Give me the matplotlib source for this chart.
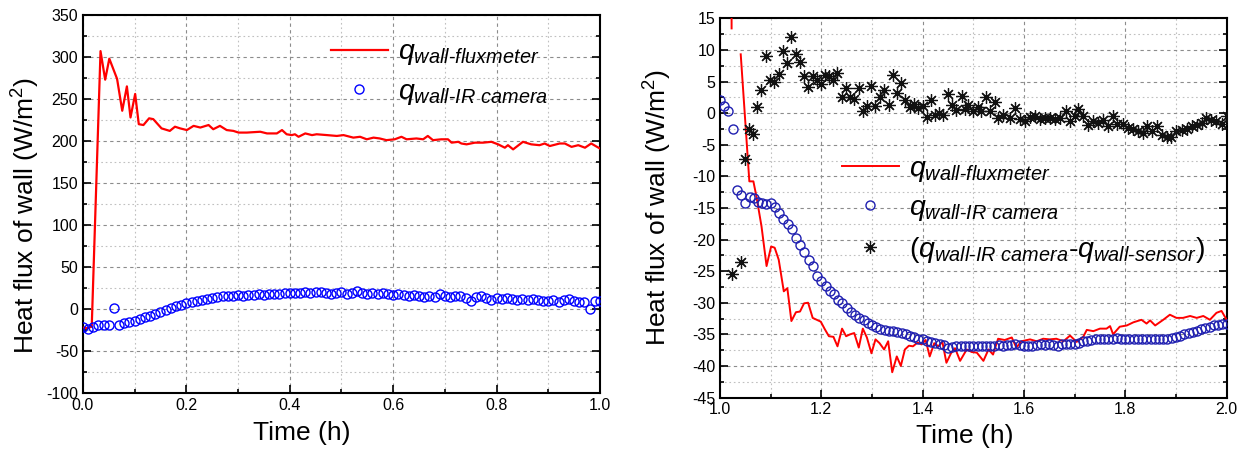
import numpy as np
import matplotlib
matplotlib.use("Agg")
import matplotlib.pyplot as plt
from matplotlib.ticker import MultipleLocator, FormatStrFormatter

plt.rcParams["font.family"] = ["Liberation Sans", "DejaVu Sans"]
plt.rcParams["mathtext.fontset"] = "custom"
plt.rcParams["mathtext.rm"] = "Liberation Sans"
plt.rcParams["mathtext.it"] = "Liberation Sans:italic"
plt.rcParams["mathtext.default"] = "it"
plt.rcParams["axes.unicode_minus"] = False


# ===============================
# DATA - left panel (0-1 h)
# ===============================
left_flux_t = [0.000, 0.008, 0.017, 0.034, 0.043, 0.051, 0.066, 0.076, 0.085, 0.092,
               0.101, 0.108, 0.117, 0.128, 0.136, 0.152, 0.168, 0.178, 0.188, 0.201,
               0.214, 0.227, 0.243, 0.252, 0.265, 0.278, 0.291, 0.301, 0.317, 0.343,
               0.356, 0.375, 0.385, 0.394, 0.404, 0.410, 0.417, 0.430, 0.443, 0.452,
               0.472, 0.491, 0.504, 0.523, 0.536, 0.549, 0.562, 0.574, 0.587, 0.603,
               0.616, 0.626, 0.645, 0.658, 0.667, 0.677, 0.693, 0.706, 0.713, 0.726,
               0.732, 0.742, 0.758, 0.774, 0.790, 0.803, 0.816, 0.822, 0.832, 0.851,
               0.867, 0.883, 0.893, 0.903, 0.922, 0.932, 0.945, 0.958, 0.971, 0.983,
               1.000]
left_flux_q = [-22, -23, -21, 307, 273, 298, 274, 236, 265, 228,
               256, 220, 219, 227, 226, 215, 212, 217, 215, 213,
               218, 216, 219, 214, 218, 213, 212, 210, 210, 211,
               209, 209, 213, 208, 207, 208, 205, 209, 207, 208,
               207, 206, 207, 204, 205, 202, 204, 203, 201, 202,
               205, 202, 203, 202, 206, 201, 202, 202, 198, 199,
               197, 196, 198, 198, 199, 196, 192, 195, 190, 199,
               196, 195, 197, 194, 197, 197, 193, 195, 192, 197,
               191]

left_ir_t0, left_ir_dt = 0.0, 0.01
left_ir_q = [-22, -24, -21, -19, -19, -19, 1, -19, -17, -16,
             -14, -12, -10, -8, -6, -4, -1, 1, 3, 5,
             7, 8, 10, 11, 12, 13, 14, 15, 15, 16,
             17, 16, 17, 17, 18, 17, 18, 18, 18, 19,
             19, 19, 19, 20, 19, 20, 20, 19, 18, 19,
             20, 18, 19, 21, 19, 18, 19, 18, 19, 18,
             17, 18, 17, 16, 17, 16, 14, 15, 14, 18,
             15, 14, 15, 16, 13, 10, 14, 15, 13, 11,
             13, 12, 13, 12, 11, 12, 11, 12, 11, 10,
             10, 11, 8, 11, 12, 9, 8, 8, 0, 10,
             9]

# ===============================
# DATA - right panel (1-2 h)
# ===============================
right_flux_t = [1.022, 1.023, np.nan, 1.041, 1.058, 1.066, 1.072, 1.082, 1.092, 1.101,
                1.108, 1.116, 1.126, 1.133, 1.141, 1.150, 1.158, 1.166, 1.174, 1.183,
                1.191, 1.199, 1.207, 1.215, 1.224, 1.232, 1.241, 1.249, 1.257, 1.265,
                1.274, 1.282, 1.290, 1.299, 1.307, 1.315, 1.324, 1.332, 1.340, 1.349,
                1.357, 1.365, 1.373, 1.381, 1.390, 1.398, 1.406, 1.414, 1.423, 1.431,
                1.439, 1.447, 1.456, 1.464, 1.474, 1.487, 1.497, 1.507, 1.520, 1.530,
                1.539, 1.549, 1.562, 1.576, 1.585, 1.595, 1.612, 1.625, 1.638, 1.651,
                1.664, 1.678, 1.691, 1.704, 1.717, 1.724, 1.737, 1.750, 1.763, 1.770,
                1.776, 1.789, 1.803, 1.816, 1.832, 1.842, 1.849, 1.859, 1.875, 1.888,
                1.901, 1.914, 1.928, 1.941, 1.954, 1.967, 1.980, 1.990, 2.000]
right_flux_q = [60.0, 13.4, np.nan, 9.3, -10.8, -10.8, -13.2, -17.9, -24.2, -21.1,
                -21.3, -23.2, -28.2, -27.7, -32.9, -31.5, -31.4, -30.1, -30.0, -32.4,
                -32.7, -33.0, -34.2, -35.3, -35.4, -36.9, -34.1, -35.3, -35.0, -34.8,
                -37.1, -34.1, -35.5, -38.0, -35.8, -36.4, -37.4, -36.1, -41.0, -38.5,
                -40.0, -37.4, -36.8, -36.9, -36.3, -36.6, -35.9, -38.5, -36.4, -36.9,
                -36.2, -39.5, -38.0, -37.2, -39.2, -37.4, -37.8, -37.9, -39.2, -37.4,
                -38.2, -35.7, -35.9, -35.5, -37.1, -36.1, -35.8, -36.1, -35.7, -35.8,
                -35.7, -36.1, -35.2, -36.2, -35.4, -34.3, -34.5, -34.1, -34.1, -33.7,
                -35.0, -33.8, -33.6, -33.1, -32.7, -33.3, -32.8, -33.6, -32.7, -31.9,
                -32.4, -32.4, -32.1, -32.4, -32.1, -32.7, -31.6, -31.3, -32.7]

right_ir_t0, right_ir_dt = 1.0, 1.0 / 120
right_ir_q = [2.1, 1.1, 0.4, -2.5, -12.1, -12.9, -14.3, -13.3, -13.4, -14.0,
              -14.3, -14.4, -14.3, -14.9, -15.8, -16.7, -17.6, -18.4, -19.8, -20.9,
              -22.0, -23.2, -24.2, -25.7, -26.6, -27.4, -28.2, -28.7, -29.5, -30.1,
              -30.9, -31.4, -31.9, -32.4, -32.8, -33.2, -33.6, -33.9, -34.1, -34.3,
              -34.4, -34.5, -34.7, -34.8, -35.0, -35.2, -35.4, -35.7, -35.8, -36.0,
              -36.2, -36.3, -36.5, -36.7, -37.1, -37.0, -36.9, -36.8, -36.9, -36.9,
              -36.8, -36.9, -36.8, -36.8, -36.9, -36.8, -36.7, -36.8, -36.7, -36.7,
              -36.6, -36.7, -36.8, -36.8, -36.9, -36.7, -36.6, -36.7, -36.6, -36.7,
              -36.8, -36.6, -36.5, -36.6, -36.5, -36.3, -36.1, -36.0, -35.9, -35.8,
              -35.8, -35.7, -35.7, -35.7, -35.6, -35.7, -35.7, -35.7, -35.8, -35.8,
              -35.8, -35.8, -35.8, -35.8, -35.8, -35.8, -35.7, -35.6, -35.4, -35.2,
              -35.0, -34.8, -34.6, -34.4, -34.2, -34.0, -33.8, -33.6, -33.5, -33.4,
              -33.3]

diff_t = [1.023, 1.041, 1.049, 1.058, 1.066, 1.074, 1.082, 1.091, 1.099, 1.107,
          1.116, 1.125, 1.133, 1.141, 1.150, 1.158, 1.166, 1.174, 1.183, 1.191,
          1.199, 1.207, 1.215, 1.224, 1.232, 1.241, 1.249, 1.257, 1.265, 1.274,
          1.282, 1.290, 1.299, 1.307, 1.316, 1.324, 1.333, 1.341, 1.350, 1.358,
          1.366, 1.375, 1.383, 1.391, 1.400, 1.408, 1.416, 1.425, 1.433, 1.441,
          1.450, 1.458, 1.466, 1.477, 1.484, 1.490, 1.500, 1.510, 1.516, 1.526,
          1.533, 1.543, 1.549, 1.559, 1.572, 1.582, 1.592, 1.602, 1.612, 1.622,
          1.632, 1.641, 1.651, 1.661, 1.671, 1.683, 1.691, 1.701, 1.707, 1.717,
          1.727, 1.737, 1.747, 1.757, 1.766, 1.775, 1.783, 1.796, 1.806, 1.816,
          1.826, 1.835, 1.843, 1.852, 1.862, 1.872, 1.882, 1.891, 1.901, 1.911,
          1.921, 1.931, 1.941, 1.951, 1.960, 1.970, 1.980, 1.990, 2.000]
diff_q = [-25.5, -23.6, -7.2, -2.5, -3.3, 0.9, 3.7, 9.1, 5.3, 5.0,
          6.2, 9.8, 8.0, 12.1, 9.3, 8.1, 5.9, 4.1, 5.9, 5.3,
          4.6, 6.0, 5.9, 5.3, 6.4, 2.5, 3.9, 2.6, 2.3, 3.9,
          0.4, 1.1, 4.3, 1.1, 2.6, 3.6, 1.3, 6.0, 3.2, 4.8,
          2.0, 0.9, 1.5, 0.8, 1.1, -0.6, 2.0, -0.3, 0.0, -0.3,
          3.0, 1.3, 0.5, 2.7, 0.6, 1.3, 0.3, 1.0, 0.3, 2.5,
          0.3, 1.7, -0.8, -0.3, -0.8, 0.8, -1.0, -1.3, -0.6, -0.4,
          -1.0, -0.8, -0.8, -1.0, -0.8, 0.3, -1.3, -0.5, 0.6, -0.5,
          -1.9, -1.3, -1.5, -1.1, -2.0, -0.5, -1.7, -1.7, -2.4, -2.5,
          -2.9, -3.2, -2.1, -2.9, -2.1, -3.4, -3.8, -3.8, -2.9, -2.6,
          -2.5, -2.1, -1.9, -1.6, -0.8, -1.1, -1.3, -1.7, -0.5]

lab_flux = r"$q_{wall\text{-}fluxmeter}$"
lab_ir = r"$q_{wall\text{-}IR\ camera}$"
lab_diff = r"$(q_{wall\text{-}IR\ camera}\text{-}q_{wall\text{-}sensor})$"


def style_axes(ax):
    ax.grid(which="major", color="#8c8c8c", linestyle=(0, (3, 3)), linewidth=0.8)
    ax.grid(which="minor", color="#c0c0c0", linestyle=(0, (1.5, 2.5)), linewidth=0.8)
    ax.set_axisbelow(True)
    for s in ax.spines.values():
        s.set_linewidth(1.5)
    ax.tick_params(which="both", direction="in", right=True, top=False,
                   labelsize=11.5, width=1.2)
    ax.tick_params(which="major", length=6)
    ax.tick_params(which="minor", length=3)


fig = plt.figure(figsize=(12.51, 4.54), dpi=100)

# ===============================
# LEFT PANEL
# ===============================
ax1 = fig.add_axes([0.0663, 0.1344, 0.4133, 0.8326])
t_ir1 = left_ir_t0 + left_ir_dt * np.arange(len(left_ir_q))
ax1.plot(left_flux_t, left_flux_q, color="#ff0000", lw=1.6, label=lab_flux, zorder=3)
ax1.plot(t_ir1, left_ir_q, ls="none", marker="o", ms=6.5, mfc="none", mec="#0000ff",
         mew=1.0, label=lab_ir, zorder=4)
ax1.set_xlim(0, 1)
ax1.set_ylim(-100, 350)
ax1.xaxis.set_major_locator(MultipleLocator(0.2))
ax1.xaxis.set_minor_locator(MultipleLocator(0.1))
ax1.yaxis.set_major_locator(MultipleLocator(50))
ax1.yaxis.set_minor_locator(MultipleLocator(25))
ax1.xaxis.set_major_formatter(FormatStrFormatter("%.1f"))
style_axes(ax1)
ax1.set_xlabel("Time (h)", fontsize=19)
ax1.set_ylabel("Heat flux of wall (W/m$^2$)", fontsize=19)
ax1.xaxis.set_label_coords(0.424, -0.075)
ax1.yaxis.set_label_coords(-0.08, 0.47)
ax1.legend(loc="upper left", bbox_to_anchor=(0.43, 1.003), frameon=False, fontsize=20.5,
           handlelength=2.0, handletextpad=0.35, labelspacing=0.4, borderpad=0.4)

# ===============================
# RIGHT PANEL
# ===============================
ax2 = fig.add_axes([0.5755, 0.1244, 0.4050, 0.8353])
t_ir2 = right_ir_t0 + right_ir_dt * np.arange(len(right_ir_q))
ax2.plot(right_flux_t, right_flux_q, color="#ff0000", lw=1.4, label=lab_flux, zorder=3)
ax2.plot(t_ir2, right_ir_q, ls="none", marker="o", ms=6.5, mfc="none", mec="#1f1fb0",
         mew=1.0, label=lab_ir, zorder=4)
ax2.plot(diff_t, diff_q, ls="none", marker=(8, 2, 0), ms=9, color="#111111",
         mew=0.9, label=lab_diff, zorder=5)
ax2.set_xlim(1, 2)
ax2.set_ylim(-45, 15)
ax2.xaxis.set_major_locator(MultipleLocator(0.2))
ax2.xaxis.set_minor_locator(MultipleLocator(0.1))
ax2.yaxis.set_major_locator(MultipleLocator(5))
ax2.yaxis.set_minor_locator(MultipleLocator(2.5))
ax2.xaxis.set_major_formatter(FormatStrFormatter("%.1f"))
style_axes(ax2)
ax2.set_xlabel("Time (h)", fontsize=19)
ax2.set_ylabel("Heat flux of wall (W/m$^2$)", fontsize=19)
ax2.xaxis.set_label_coords(0.483, -0.07)
ax2.yaxis.set_label_coords(-0.09, 0.5)
ax2.legend(loc="upper left", bbox_to_anchor=(0.19, 0.705), frameon=False, fontsize=20.5,
           handlelength=2.0, handletextpad=0.35, labelspacing=0.4, borderpad=0.4)

fig.savefig("out.png", dpi=100)
